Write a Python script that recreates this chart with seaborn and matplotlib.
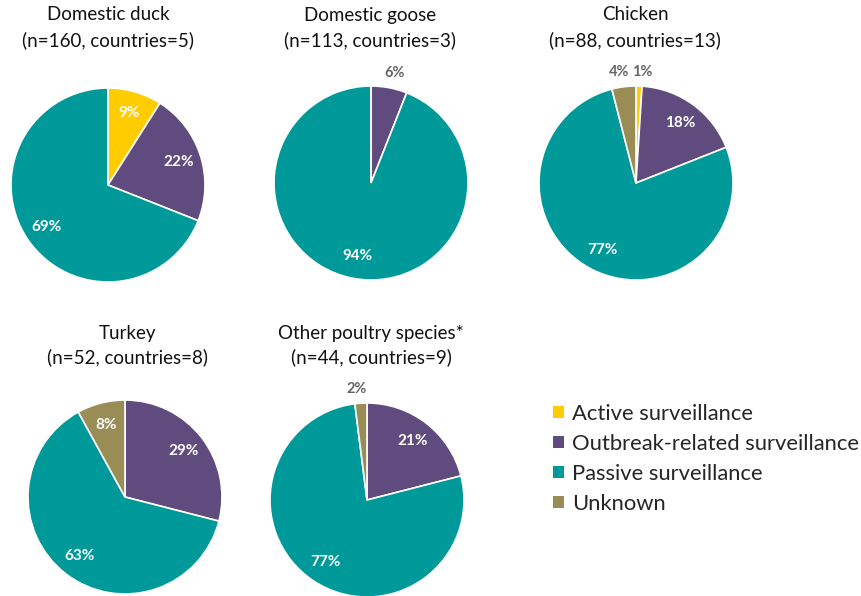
import numpy as np
import matplotlib
matplotlib.use("Agg")
import matplotlib.pyplot as plt
import matplotlib.transforms as mtransforms
from matplotlib.patches import Patch
import seaborn as sns

# data (percent of samples per surveillance type)
species = ['Domestic duck', 'Domestic goose', 'Chicken', 'Turkey', 'Other poultry species*']
n_samples = [160, 113, 88, 52, 44]
n_countries = [5, 3, 13, 8, 9]
categories = ['Active surveillance', 'Outbreak-related surveillance', 'Passive surveillance', 'Unknown']
active = [9, 0, 1, 0, 0]
outbreak = [22, 6, 18, 29, 21]
passive = [69, 94, 77, 63, 77]
unknown = [0, 0, 4, 8, 2]

palette = ['#FFCC00', '#5F4B7D', '#009999', '#998D55']

sns.set_theme(style="white")
plt.rcParams['font.family'] = ['Lato', 'DejaVu Sans']

W, H = 861, 596
fig = plt.figure(figsize=(W / 100, H / 100), dpi=100)

# layout (pixel centre of each pie, radius, title line positions)
centres = [(108, 185), (371, 183), (636, 183), (125, 497), (367, 500)]
title_x = [108, 370, 635, 127, 371]
title_y = [[15, 40], [15, 40], [15, 40], [333, 357], [333, 357]]
R = 97


def autolabel(pct):
    return f'{pct:.0f}%' if pct >= 7 else ''


for i, sp in enumerate(species):
    cx, cy = centres[i]
    ax = fig.add_axes([(cx - R) / W, (H - cy - R) / H, 2 * R / W, 2 * R / H])
    vals = [active[i], outbreak[i], passive[i], unknown[i]]
    outer = [f'{v}%' if 0 < v < 7 else '' for v in vals]
    wedges, texts, autotexts = ax.pie(
        vals, colors=palette, startangle=90, counterclock=False,
        labels=outer, labeldistance=1.15, autopct=autolabel, pctdistance=0.77,
        wedgeprops=dict(edgecolor='white', linewidth=1.2), radius=1)
    for t in texts:
        # nudge small outside labels a little away from the vertical so neighbours don't collide
        dx = 2.2 if t.get_position()[0] >= 0 else -2.2
        t.set_transform(mtransforms.offset_copy(ax.transData, fig=fig, x=dx, y=0, units='points'))
        t.set_ha('center')
        t.set_va('center')
        t.set_color('#666666')
        t.set_fontweight('bold')
        t.set_fontsize(10.5)
    for t in autotexts:
        t.set_color('white')
        t.set_fontweight('bold')
        t.set_fontsize(11)
    ax.set_xlim(-1, 1)
    ax.set_ylim(-1, 1)
    ax.set_aspect('equal')
    fig.text(title_x[i] / W, 1 - title_y[i][0] / H, sp, ha='center', va='center', fontsize=13.5, color='#111111')
    fig.text(title_x[i] / W, 1 - title_y[i][1] / H, f'(n={n_samples[i]}, countries={n_countries[i]})',
             ha='center', va='center', fontsize=13.5, color='#111111')

handles = [Patch(facecolor=c, edgecolor='none', label=l) for c, l in zip(palette, categories)]
fig.legend(handles=handles, loc='upper left', bbox_to_anchor=(553 / W, 1 - 404 / H),
           frameon=False, fontsize=15.8, handlelength=0.5, handleheight=0.5,
           handletextpad=0.36, labelspacing=0.45, borderaxespad=0, borderpad=0)

fig.savefig('out.png', dpi=100)
